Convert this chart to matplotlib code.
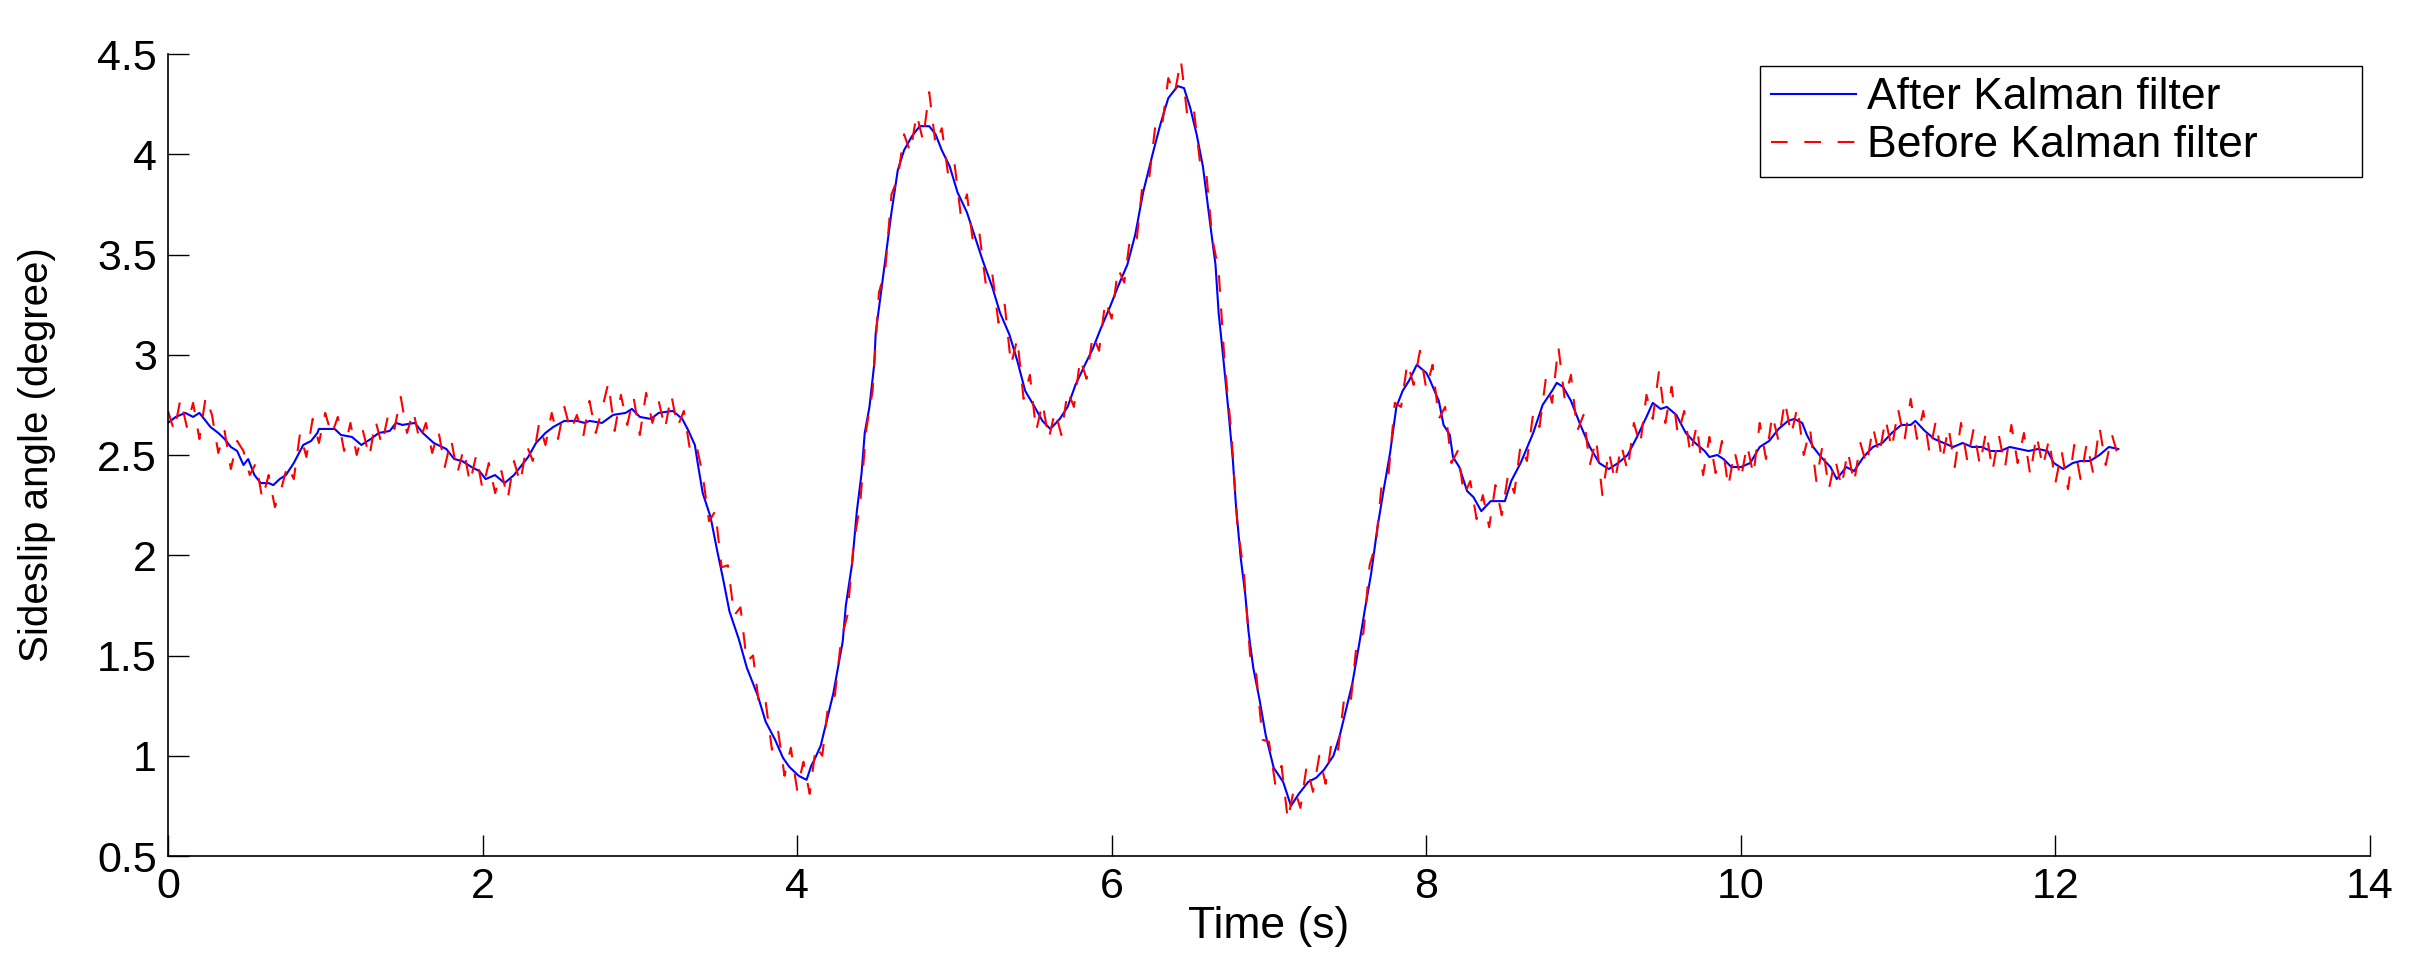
import matplotlib
matplotlib.use("Agg")
import matplotlib.pyplot as plt
import numpy as np
from matplotlib.ticker import FuncFormatter

plt.rcParams['font.family'] = ['Liberation Sans', 'DejaVu Sans']

# sideslip estimate after the Kalman filter
after_t = [0.00, 0.05, 0.11, 0.16, 0.20, 0.23, 0.27, 0.32, 0.36, 0.40,
           0.44, 0.48, 0.51, 0.55, 0.59, 0.64, 0.67, 0.71, 0.75, 0.80,
           0.86, 0.91, 0.95, 0.96, 1.06, 1.10, 1.17, 1.23, 1.29, 1.34,
           1.41, 1.45, 1.49, 1.57, 1.62, 1.69, 1.77, 1.82, 1.87, 1.93,
           1.98, 2.02, 2.08, 2.14, 2.20, 2.25, 2.29, 2.34, 2.40, 2.45,
           2.52, 2.60, 2.65, 2.68, 2.76, 2.83, 2.91, 2.95, 3.00, 3.07,
           3.12, 3.21, 3.27, 3.31, 3.35, 3.37, 3.40, 3.45, 3.49, 3.53,
           3.57, 3.63, 3.68, 3.75, 3.80, 3.86, 3.91,
           3.95, 4.01, 4.06, 4.09, 4.11, 4.15, 4.19, 4.23, 4.26, 4.29,
           4.31, 4.35, 4.38, 4.41, 4.43, 4.46, 4.49, 4.50, 4.53, 4.56,
           4.60, 4.64, 4.68, 4.73, 4.78, 4.84, 4.88, 4.92, 4.97, 5.02,
           5.08, 5.13, 5.18, 5.24, 5.29, 5.35, 5.40, 5.45, 5.51, 5.56,
           5.61, 5.67, 5.72, 5.77, 5.83, 5.88, 5.93, 5.99, 6.04, 6.10,
           6.15, 6.20, 6.26, 6.31, 6.36, 6.42, 6.46, 6.50, 6.54, 6.58,
           6.63, 6.66, 6.68, 6.71, 6.74, 6.77, 6.79, 6.82, 6.85, 6.87,
           6.90, 6.94, 6.98, 7.03, 7.09, 7.14, 7.19, 7.25, 7.30, 7.35,
           7.41, 7.45, 7.49, 7.53, 7.57, 7.61, 7.65, 7.69, 7.73, 7.77,
           7.81, 7.85, 7.89, 7.94, 8.00,
           8.02, 8.08, 8.11, 8.15, 8.17, 8.21, 8.26, 8.30, 8.35, 8.41,
           8.50, 8.54, 8.60, 8.68, 8.74, 8.80, 8.83, 8.87, 8.92, 8.98,
           9.04, 9.10, 9.16, 9.22, 9.28, 9.34, 9.40, 9.44, 9.49, 9.53,
           9.59, 9.65, 9.71, 9.77, 9.80, 9.85, 9.89, 9.94, 10.00, 10.06,
           10.12, 10.18, 10.24, 10.30, 10.34, 10.39, 10.42, 10.46, 10.51, 10.57,
           10.61, 10.67, 10.72, 10.78, 10.84, 10.90, 10.96, 11.02, 11.08, 11.11,
           11.17, 11.23, 11.29, 11.35, 11.41, 11.47, 11.53, 11.59, 11.65, 11.71,
           11.77, 11.83, 11.89, 11.95, 11.99, 12.05, 12.11, 12.16, 12.22, 12.28,
           12.34, 12.40]
after_v = [2.66, 2.69, 2.71, 2.69, 2.71, 2.68, 2.64, 2.61, 2.58, 2.54,
           2.52, 2.45, 2.48, 2.40, 2.36, 2.36, 2.35, 2.38, 2.40, 2.46,
           2.55, 2.57, 2.61, 2.63, 2.63, 2.60, 2.59, 2.55, 2.58, 2.61,
           2.62, 2.66, 2.65, 2.66, 2.61, 2.56, 2.53, 2.48, 2.47, 2.44,
           2.42, 2.38, 2.40, 2.36, 2.40, 2.45, 2.49, 2.56, 2.61, 2.64,
           2.67, 2.67, 2.66, 2.67, 2.66, 2.70, 2.71, 2.73, 2.69, 2.68,
           2.71, 2.72, 2.68, 2.62, 2.55, 2.45, 2.31, 2.19, 2.03, 1.88,
           1.72, 1.58, 1.44, 1.30, 1.17, 1.08, 0.99,
           0.945, 0.90, 0.88, 0.95, 0.98, 1.05, 1.18, 1.31, 1.44, 1.57,
           1.75, 1.96, 2.22, 2.41, 2.61, 2.74, 2.95, 3.11, 3.29, 3.47,
           3.71, 3.92, 4.02, 4.09, 4.14, 4.14, 4.10, 4.02, 3.94, 3.81,
           3.71, 3.59, 3.47, 3.34, 3.21, 3.10, 2.97, 2.82, 2.74, 2.67,
           2.63, 2.68, 2.74, 2.85, 2.95, 3.03, 3.13, 3.24, 3.34, 3.45,
           3.60, 3.81, 4.00, 4.15, 4.28, 4.34, 4.33, 4.23, 4.10, 3.94,
           3.63, 3.45, 3.21, 2.98, 2.74, 2.48, 2.25, 1.99, 1.80, 1.62,
           1.44, 1.28, 1.10, 0.94, 0.87, 0.75, 0.81, 0.87, 0.89, 0.93,
           1.00, 1.10, 1.23, 1.36, 1.54, 1.73, 1.91, 2.14, 2.33, 2.51,
           2.74, 2.82, 2.87, 2.95, 2.91,
           2.88, 2.77, 2.65, 2.60, 2.49, 2.44, 2.32, 2.29, 2.22, 2.27,
           2.27, 2.37, 2.46, 2.61, 2.75, 2.82, 2.86, 2.84, 2.77, 2.65,
           2.54, 2.46, 2.43, 2.46, 2.50, 2.59, 2.69, 2.76, 2.73, 2.74,
           2.70, 2.61, 2.56, 2.52, 2.49, 2.50, 2.48, 2.44, 2.44, 2.46,
           2.54, 2.57, 2.63, 2.67, 2.68, 2.66, 2.60, 2.54, 2.49, 2.44,
           2.38, 2.44, 2.42, 2.49, 2.54, 2.56, 2.61, 2.65, 2.65, 2.67,
           2.62, 2.58, 2.56, 2.54, 2.56, 2.54, 2.54, 2.52, 2.52, 2.54,
           2.53, 2.52, 2.53, 2.52, 2.46, 2.43, 2.46, 2.47, 2.47, 2.50,
           2.54, 2.53]

# raw sideslip before the filter, one sample every 0.04 s
before_dt = 0.04
before_v = [2.72, 2.62, 2.78, 2.64, 2.76, 2.58, 2.79, 2.70, 2.51, 2.62,
            2.43, 2.57, 2.52, 2.40, 2.46, 2.28, 2.40, 2.24, 2.33, 2.45,
            2.38, 2.61, 2.49, 2.68, 2.56, 2.71, 2.60, 2.69, 2.52, 2.66,
            2.50, 2.62, 2.49, 2.67, 2.55, 2.70, 2.63, 2.79, 2.61, 2.72,
            2.57, 2.66, 2.51, 2.62, 2.44, 2.58, 2.41, 2.53, 2.36, 2.50,
            2.33, 2.46, 2.31, 2.42, 2.28, 2.47, 2.36, 2.55, 2.47, 2.66,
            2.55, 2.71, 2.58, 2.74, 2.62, 2.70, 2.59, 2.77, 2.61, 2.73,
            2.86, 2.62, 2.80, 2.65, 2.79, 2.60, 2.81, 2.66, 2.77, 2.63,
            2.80, 2.64, 2.72, 2.52, 2.55, 2.40, 2.17, 2.22, 1.94, 1.95,
            1.70, 1.74, 1.47, 1.50, 1.24, 1.27, 1.03, 1.12, 0.90, 1.04,
            0.83, 0.97, 0.81, 1.05, 1.00, 1.27, 1.30, 1.58, 1.70, 2.06,
            2.25, 2.63, 2.82, 3.31, 3.42, 3.80, 3.88, 4.10, 4.01, 4.20,
            4.07, 4.31, 4.05, 4.13, 3.90, 3.96, 3.70, 3.80, 3.55, 3.60,
            3.35, 3.41, 3.16, 3.25, 2.95, 3.08, 2.78, 2.90, 2.62, 2.76,
            2.58, 2.72, 2.60, 2.82, 2.74, 2.98, 2.88, 3.10, 3.02, 3.27,
            3.18, 3.43, 3.36, 3.60, 3.58, 3.88, 3.89, 4.16, 4.14, 4.38,
            4.30, 4.47, 4.20, 4.24, 3.97, 3.92, 3.58, 3.42, 2.94, 2.62,
            2.14, 1.92, 1.50, 1.40, 1.08, 1.07, 0.86, 0.95, 0.68, 0.84,
            0.74, 0.95, 0.82, 1.00, 0.86, 1.08, 1.03, 1.30, 1.27, 1.58,
            1.61, 1.95, 2.06, 2.38, 2.40, 2.76, 2.74, 2.96, 2.85, 3.02,
            2.83, 2.95, 2.68, 2.74, 2.46, 2.52, 2.30, 2.37, 2.18, 2.30,
            2.14, 2.35, 2.20, 2.40, 2.31, 2.55, 2.47, 2.71, 2.64, 2.88,
            2.76, 3.04, 2.78, 2.90, 2.62, 2.70, 2.45, 2.58, 2.30, 2.52,
            2.37, 2.55, 2.42, 2.66, 2.55, 2.80, 2.68, 2.92, 2.66, 2.84,
            2.60, 2.72, 2.50, 2.65, 2.40, 2.59, 2.41, 2.57, 2.34, 2.52,
            2.38, 2.55, 2.40, 2.66, 2.48, 2.70, 2.57, 2.77, 2.60, 2.74,
            2.50, 2.63, 2.37, 2.55, 2.33, 2.48, 2.34, 2.52, 2.36, 2.56,
            2.45, 2.64, 2.50, 2.68, 2.53, 2.73, 2.57, 2.78, 2.58, 2.72,
            2.51, 2.67, 2.47, 2.64, 2.44, 2.66, 2.47, 2.63, 2.45, 2.62,
            2.42, 2.60, 2.44, 2.65, 2.46, 2.61, 2.40, 2.60, 2.44, 2.58,
            2.36, 2.52, 2.33, 2.55, 2.38, 2.56, 2.41, 2.64, 2.45, 2.60,
            2.49]
before_t = np.arange(len(before_v)) * before_dt

x_ticks = [0, 2, 4, 6, 8, 10, 12, 14]
y_ticks = [0.5, 1, 1.5, 2, 2.5, 3, 3.5, 4, 4.5]

fig = plt.figure(figsize=(24.27, 9.68), dpi=100)
ax = fig.add_axes([0.0692, 0.1157, 0.9073, 0.8285])

ax.plot(after_t, after_v, color=(0, 0, 1), lw=1.5, label='After Kalman filter')
ax.plot(before_t, before_v, color=(1, 0, 0), lw=1.5, dashes=(8, 8),
        label='Before Kalman filter')

ax.set_xlim(0, 14)
ax.set_ylim(0.5, 4.5)
ax.set_xticks(x_ticks)
ax.set_yticks(y_ticks)
fmt = FuncFormatter(lambda v, p: '%g' % v)
ax.xaxis.set_major_formatter(fmt)
ax.yaxis.set_major_formatter(fmt)
ax.tick_params(direction='in', length=15, width=1, pad=8, labelsize=31,
               top=False, right=False)
for s in ['top', 'right']:
    ax.spines[s].set_visible(False)
for s in ['left', 'bottom']:
    ax.spines[s].set_linewidth(1.2)

ax.set_xlabel('Time (s)', fontsize=32)
ax.set_ylabel('Sideslip angle (degree)', fontsize=29)
ax.xaxis.set_label_coords(0.5, -0.062)
ax.yaxis.set_label_coords(-0.051, 0.5)

leg = ax.legend(loc='upper left', bbox_to_anchor=(0.7252, 0.8182, 0.248, 0.1136),
                bbox_transform=fig.transFigure, mode='expand', fontsize=32,
                handlelength=1.9, handletextpad=0.25, labelspacing=0.16,
                borderpad=0.25, borderaxespad=0, fancybox=False,
                edgecolor='black', framealpha=1)
leg.get_frame().set_linewidth(1.0)

fig.savefig('out.png', dpi=100)
